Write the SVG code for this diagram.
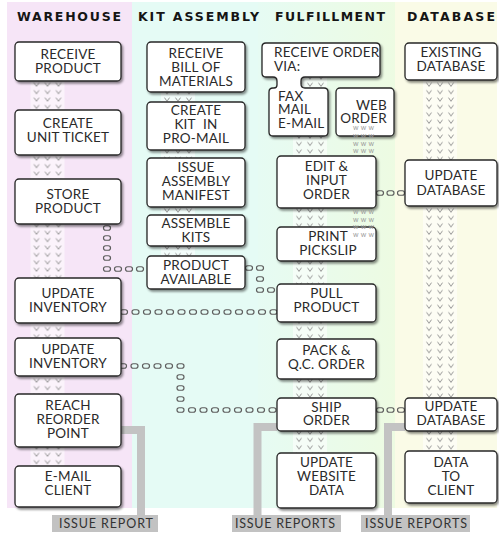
<svg xmlns="http://www.w3.org/2000/svg" xmlns:xlink="http://www.w3.org/1999/xlink" width="499" height="533" viewBox="0 0 499 533">
<defs>
<style>
.b{fill:#fff;stroke:#262626;stroke-width:1.3;filter:url(#sh)}
.t{font-family:Lato,"Open Sans","Liberation Sans",sans-serif;font-size:13.5px;letter-spacing:0.2px;fill:#2a2a2a;text-anchor:middle}
.l{text-anchor:start}
.r{text-anchor:end}
.h{font-family:"DejaVu Sans","Liberation Sans",sans-serif;font-weight:bold;font-size:12.5px;fill:#151515}
.w{font-family:Lato,"Open Sans",sans-serif;font-size:7px;fill:#9a9a9a}
.lab{font-family:Lato,"Open Sans",sans-serif;font-size:12.5px;fill:#333}
.rep{fill:none;stroke:#c3c3c3;stroke-width:8}
.strip{fill:#fff;opacity:0.55}
</style>
<filter id="sh" x="-10%" y="-10%" width="125%" height="130%">
<feDropShadow dx="1.5" dy="2" stdDeviation="1.2" flood-color="#000" flood-opacity="0.45"/>
</filter>
<linearGradient id="gf" x1="0" x2="1" y1="0" y2="0">
<stop offset="0" stop-color="#e6fbf3"/>
<stop offset="1" stop-color="#edfbe2"/>
</linearGradient>
<pattern id="vv" patternUnits="userSpaceOnUse" width="34" height="7.4">
<path d="M3.5,1.5 L6,5 L8.5,1.5 M14.5,1.5 L17,5 L19.5,1.5 M25.5,1.5 L28,5 L30.5,1.5" fill="none" stroke="#8f8f8f" stroke-width="0.9"/>
</pattern>
<rect id="lk" x="-3.5" y="-2.25" width="7" height="4.5" rx="2.2" fill="none" stroke="#5e5e5e" stroke-width="1.2"/>
</defs>

<!-- lanes -->
<rect x="7" y="2" width="125" height="506" fill="#f6e5f7"/>
<rect x="132" y="2" width="126" height="506" fill="#e5fbf5"/>
<rect x="258" y="2" width="137" height="506" fill="url(#gf)"/>
<rect x="395" y="2" width="102" height="506" fill="#fafbe7"/>

<!-- headers -->
<text class="h" x="17" y="21" textLength="104" lengthAdjust="spacing">WAREHOUSE</text>
<text class="h" x="138" y="21" textLength="121" lengthAdjust="spacing">KIT ASSEMBLY</text>
<text class="h" x="275" y="21" textLength="110" lengthAdjust="spacing">FULFILLMENT</text>
<text class="h" x="407" y="21" textLength="88" lengthAdjust="spacing">DATABASE</text>

<!-- flow arrow strips -->
<g id="strips">
<g transform="translate(30.5,0)"><rect class="strip" x="0" y="81" width="34" height="385"/><rect x="0" y="81" width="34" height="385" fill="url(#vv)"/></g>
<g transform="translate(161,0)"><rect class="strip" x="0" y="92" width="34" height="164"/><rect x="0" y="92" width="34" height="164" fill="url(#vv)"/></g>
<g transform="translate(293,0)"><rect class="strip" x="0" y="77" width="34" height="376"/><rect x="0" y="77" width="34" height="376" fill="url(#vv)"/></g>
<g transform="translate(423,0)"><rect class="strip" x="0" y="80" width="34" height="371"/><rect x="0" y="80" width="34" height="371" fill="url(#vv)"/></g>
</g>

<!-- connectors -->
<g id="connectors">
<g id="c-store-available">
<use href="#lk" x="107" y="228"/><use href="#lk" x="107" y="238"/><use href="#lk" x="107" y="248"/><use href="#lk" x="107" y="258"/>
<use href="#lk" x="107" y="269"/><use href="#lk" x="118" y="269"/><use href="#lk" x="129" y="269"/><use href="#lk" x="140" y="269"/>
</g>
<g id="c-available-pull">
<use href="#lk" x="249" y="268"/><use href="#lk" x="260" y="268"/><use href="#lk" x="260" y="279"/><use href="#lk" x="260" y="290"/><use href="#lk" x="271" y="290"/>
</g>
<g id="c-inventory-pull">
<use href="#lk" x="124" y="312"/><use href="#lk" x="135.5" y="312"/><use href="#lk" x="147" y="312"/><use href="#lk" x="158.5" y="312"/><use href="#lk" x="170" y="312"/><use href="#lk" x="181.5" y="312"/><use href="#lk" x="193" y="312"/><use href="#lk" x="204.5" y="312"/><use href="#lk" x="216" y="312"/><use href="#lk" x="227.5" y="312"/><use href="#lk" x="239" y="312"/><use href="#lk" x="250.5" y="312"/><use href="#lk" x="262" y="312"/><use href="#lk" x="273.5" y="312"/>
</g>
<g id="c-inventory-ship">
<use href="#lk" x="123" y="366"/><use href="#lk" x="134.5" y="366"/><use href="#lk" x="146" y="366"/><use href="#lk" x="157.5" y="366"/><use href="#lk" x="169" y="366"/><use href="#lk" x="180.5" y="366"/>
<use href="#lk" x="180.5" y="377"/><use href="#lk" x="180.5" y="388"/><use href="#lk" x="180.5" y="399"/><use href="#lk" x="180.5" y="410"/>
<use href="#lk" x="192" y="410"/><use href="#lk" x="203.5" y="410"/><use href="#lk" x="215" y="410"/><use href="#lk" x="226.5" y="410"/><use href="#lk" x="238" y="410"/><use href="#lk" x="249.5" y="410"/><use href="#lk" x="261" y="410"/><use href="#lk" x="272.5" y="410"/>
</g>
<g id="c-edit-db">
<use href="#lk" x="380" y="193"/><use href="#lk" x="390.5" y="193"/><use href="#lk" x="401" y="193"/>
</g>
<g id="c-ship-db">
<use href="#lk" x="380" y="410"/><use href="#lk" x="390.5" y="410"/><use href="#lk" x="401" y="410"/>
</g>
<path class="rep" d="M121,430 H141 V516"/>
<path class="rep" d="M277,427 H257.5 V516"/>
<path class="rep" d="M405,427 H388 V516"/>
</g>

<!-- warehouse -->
<g id="n-receive-product"><rect class="b" x="15" y="42" width="106" height="39" rx="4"/><text class="t" x="68" y="59">RECEIVE</text><text class="t" x="68" y="73">PRODUCT</text></g>
<g id="n-create-unit-ticket"><rect class="b" x="15" y="110" width="106" height="45" rx="4"/><text class="t" x="68" y="128">CREATE</text><text class="t" x="68" y="142">UNIT TICKET</text></g>
<g id="n-store-product"><rect class="b" x="15" y="179" width="106" height="45" rx="4"/><text class="t" x="68" y="199">STORE</text><text class="t" x="68" y="213">PRODUCT</text></g>
<g id="n-update-inventory-1"><rect class="b" x="15" y="278" width="106" height="45" rx="4"/><text class="t" x="68" y="298">UPDATE</text><text class="t" x="68" y="312">INVENTORY</text></g>
<g id="n-update-inventory-2"><rect class="b" x="15" y="338" width="106" height="38" rx="4"/><text class="t" x="68" y="354">UPDATE</text><text class="t" x="68" y="368">INVENTORY</text></g>
<g id="n-reach-reorder-point"><rect class="b" x="15" y="394" width="106" height="53" rx="4"/><text class="t" x="68" y="410">REACH</text><text class="t" x="68" y="424">REORDER</text><text class="t" x="68" y="438">POINT</text></g>
<g id="n-email-client"><rect class="b" x="15" y="466" width="106" height="41" rx="4"/><text class="t" x="68" y="481">E-MAIL</text><text class="t" x="68" y="495">CLIENT</text></g>

<!-- kit assembly -->
<g id="n-receive-bom"><rect class="b" x="147" y="42" width="98" height="50" rx="4"/><text class="t" x="196" y="58">RECEIVE</text><text class="t" x="196" y="72">BILL OF</text><text class="t" x="196" y="86">MATERIALS</text></g>
<g id="n-create-kit"><rect class="b" x="147" y="102" width="98" height="48" rx="4"/><text class="t" x="196" y="115">CREATE</text><text class="t" x="196" y="129" word-spacing="4">KIT IN</text><text class="t" x="196" y="143">PRO-MAIL</text></g>
<g id="n-issue-manifest"><rect class="b" x="147" y="158" width="98" height="49" rx="4"/><text class="t" x="196" y="172">ISSUE</text><text class="t" x="196" y="186">ASSEMBLY</text><text class="t" x="196" y="200">MANIFEST</text></g>
<g id="n-assemble-kits"><rect class="b" x="147" y="215" width="98" height="31" rx="4"/><text class="t" x="196" y="228">ASSEMBLE</text><text class="t" x="196" y="242">KITS</text></g>
<g id="n-product-available"><rect class="b" x="147" y="256" width="98" height="33" rx="4"/><text class="t" x="196" y="270">PRODUCT</text><text class="t" x="196" y="284">AVAILABLE</text></g>

<!-- fulfillment -->
<g id="n-receive-order"><path class="b" d="M262,47 Q262,43 266,43 L376,43 Q380,43 380,47 L380,73 Q380,77 376,77 L305,77 Q301,77 301,81 L301,84 Q301,88 305,88 L324,88 Q328,88 328,92 L328,132 Q328,136 324,136 L273,136 Q269,136 269,132 L269,92 Q269,88 273,88 L274,88 Q277,88 277,85 L277,81 Q277,77 273,77 L266,77 Q262,77 262,73 Z"/>
<text class="t l" x="274" y="57">RECEIVE ORDER</text><text class="t l" x="274" y="71">VIA:</text>
<text class="t l" x="278" y="101">FAX</text><text class="t l" x="278" y="114">MAIL</text><text class="t l" x="278" y="128">E-MAIL</text></g>
<g id="n-web-order"><rect class="b" x="336" y="88" width="58" height="48" rx="4"/><text class="t r" x="387" y="110">WEB</text><text class="t r" x="387" y="123">ORDER</text></g>
<g id="n-edit-input-order"><rect class="b" x="277" y="156" width="99" height="52" rx="4"/><text class="t" x="326.5" y="171">EDIT &amp;</text><text class="t" x="326.5" y="185">INPUT</text><text class="t" x="326.5" y="199">ORDER</text></g>
<g id="n-print-pickslip"><rect class="b" x="277" y="227" width="99" height="34" rx="4"/><text class="t" x="328" y="241">PRINT</text><text class="t" x="328" y="255">PICKSLIP</text></g>
<g id="n-pull-product"><rect class="b" x="277" y="284" width="99" height="38" rx="4"/><text class="t" x="326.5" y="298">PULL</text><text class="t" x="326.5" y="312">PRODUCT</text></g>
<g id="n-pack-qc"><rect class="b" x="277" y="339" width="99" height="40" rx="4"/><text class="t" x="326.5" y="355">PACK &amp;</text><text class="t" x="326.5" y="369">Q.C. ORDER</text></g>
<g id="n-ship-order"><rect class="b" x="277" y="398" width="99" height="33" rx="4"/><text class="t" x="326.5" y="412">SHIP</text><text class="t" x="326.5" y="425">ORDER</text></g>
<g id="n-update-website"><rect class="b" x="277" y="453" width="99" height="55" rx="4"/><text class="t" x="326.5" y="467">UPDATE</text><text class="t" x="326.5" y="481">WEBSITE</text><text class="t" x="326.5" y="495">DATA</text></g>

<!-- www marks -->
<g id="www">
<text class="w" x="353" y="130" textLength="21">www</text>
<text class="w" x="353" y="138" textLength="21">www</text>
<text class="w" x="353" y="145.5" textLength="21">www</text>
<text class="w" x="353" y="153" textLength="21">www</text>
<text class="w" x="353" y="214" textLength="21">www</text>
<text class="w" x="353" y="221.5" textLength="21">www</text>
<text class="w" x="353" y="229" textLength="21">www</text>
<text class="w" x="353" y="236.5" textLength="21">www</text>
</g>

<!-- database -->
<g id="n-existing-db"><rect class="b" x="405" y="43" width="92" height="37" rx="4"/><text class="t" x="451" y="57">EXISTING</text><text class="t" x="451" y="71">DATABASE</text></g>
<g id="n-update-db-1"><rect class="b" x="405" y="160" width="92" height="46" rx="4"/><text class="t" x="451" y="180">UPDATE</text><text class="t" x="451" y="195">DATABASE</text></g>
<g id="n-update-db-2"><rect class="b" x="405" y="398" width="92" height="33" rx="4"/><text class="t" x="451" y="411">UPDATE</text><text class="t" x="451" y="425">DATABASE</text></g>
<g id="n-data-client"><rect class="b" x="405" y="451" width="92" height="52" rx="4"/><text class="t" x="451" y="467">DATA</text><text class="t" x="451" y="481">TO</text><text class="t" x="451" y="495">CLIENT</text></g>

<!-- report labels -->
<g id="n-issue-report"><rect x="52" y="515" width="106" height="17" fill="#c2c2c2"/><text class="lab" x="59" y="528" textLength="94" lengthAdjust="spacing">ISSUE REPORT</text></g>
<g id="n-issue-reports-1"><rect x="232" y="515" width="109" height="17" fill="#c2c2c2"/><text class="lab" x="235" y="528" textLength="100" lengthAdjust="spacing">ISSUE REPORTS</text></g>
<g id="n-issue-reports-2"><rect x="361" y="515" width="109" height="17" fill="#c2c2c2"/><text class="lab" x="365" y="528" textLength="102" lengthAdjust="spacing">ISSUE REPORTS</text></g>
</svg>
